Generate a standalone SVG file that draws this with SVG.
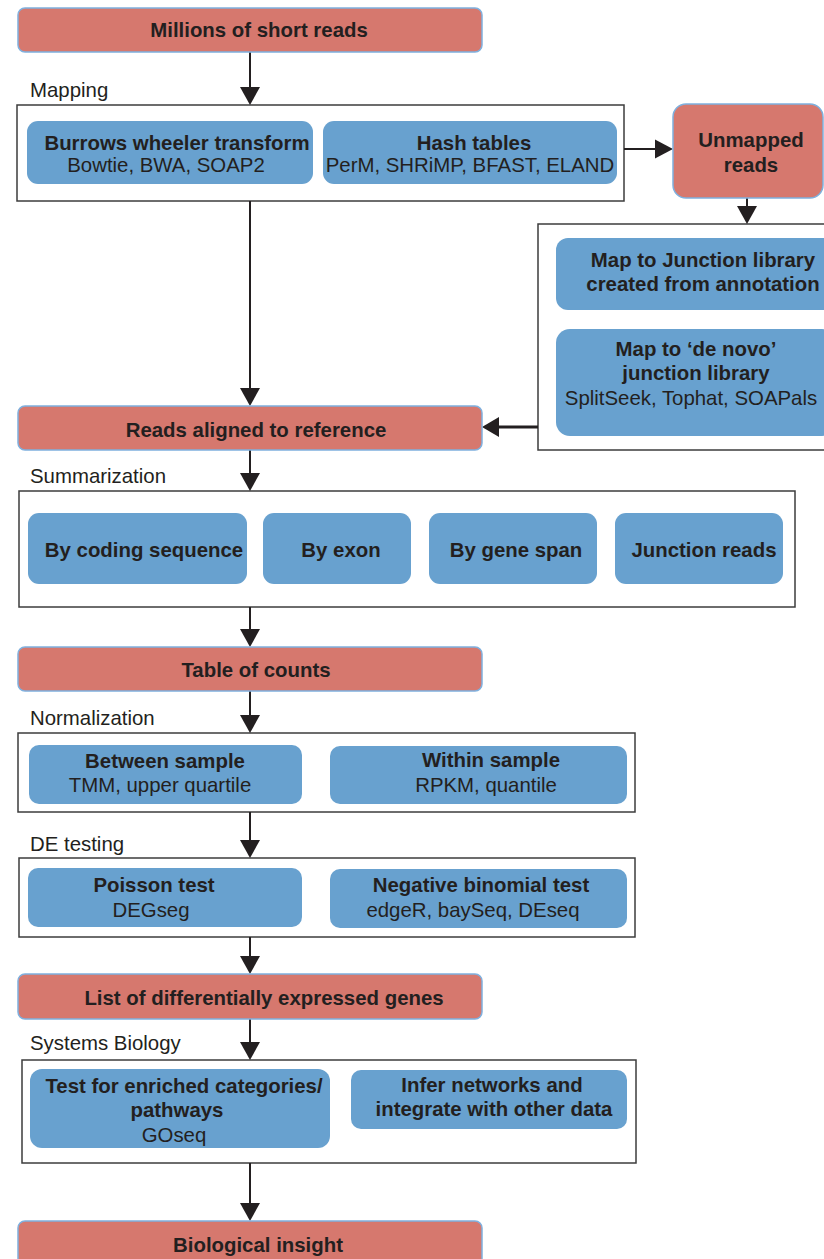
<svg xmlns="http://www.w3.org/2000/svg" width="824" height="1259" viewBox="0 0 824 1259">
<style>
text{font-family:"Liberation Sans",Arial,Helvetica,sans-serif;font-size:20.4px;fill:#231f20}
.b{font-weight:bold;text-anchor:middle}
.r{text-anchor:middle}
.lab{text-anchor:start}
.red{fill:#d6786e;stroke:#7fb0de;stroke-width:1.5}
.blue{fill:#68a1cf;stroke:none}
.frame{fill:none;stroke:#3c3c3c;stroke-width:1.5}
.ln{stroke:#231f20;stroke-width:2;fill:none}
.ah{fill:#231f20}
</style>
<defs>
<path id="down" d="M-10,-18 L10,-18 L0,0 Z" class="ah"/>
</defs>
<rect width="824" height="1259" fill="#ffffff"/>

<g id="frames">
<rect id="frame-mapping" class="frame" x="17" y="105" width="607" height="96"/>
<rect id="frame-junction" class="frame" x="538" y="224" width="300" height="226"/>
<rect id="frame-summarization" class="frame" x="19" y="491" width="776" height="116"/>
<rect id="frame-normalization" class="frame" x="18" y="733" width="617" height="79"/>
<rect id="frame-de" class="frame" x="19" y="858" width="616" height="79"/>
<rect id="frame-systems" class="frame" x="22" y="1060" width="614" height="103"/>
</g>

<g id="labels">
<text class="lab" x="30" y="97">Mapping</text>
<text class="lab" x="30" y="483">Summarization</text>
<text class="lab" x="30" y="725">Normalization</text>
<text class="lab" x="30" y="851">DE testing</text>
<text class="lab" x="30" y="1050">Systems Biology</text>
</g>

<g id="connectors">
<line class="ln" x1="250" y1="52" x2="250" y2="90"/>
<use href="#down" x="250" y="105"/>
<line class="ln" x1="624" y1="149" x2="657" y2="149"/>
<path class="ah" d="M673,149 L655,139.5 L655,158.5 Z"/>
<line class="ln" x1="747" y1="198" x2="747" y2="208"/>
<use href="#down" x="747" y="224"/>
<line class="ln" x1="250" y1="201" x2="250" y2="390"/>
<use href="#down" x="250" y="406"/>
<line x1="538" y1="427" x2="496" y2="427" stroke="#231f20" stroke-width="3"/>
<path class="ah" d="M482,427 L499,417 L499,437 Z"/>
<line class="ln" x1="250" y1="450" x2="250" y2="475"/>
<use href="#down" x="250" y="491"/>
<line class="ln" x1="250" y1="607" x2="250" y2="631"/>
<use href="#down" x="250" y="647"/>
<line class="ln" x1="250" y1="691" x2="250" y2="717"/>
<use href="#down" x="250" y="733"/>
<line class="ln" x1="250" y1="812" x2="250" y2="842"/>
<use href="#down" x="250" y="858"/>
<line class="ln" x1="250" y1="937" x2="250" y2="958"/>
<use href="#down" x="250" y="974"/>
<line class="ln" x1="250" y1="1019" x2="250" y2="1044"/>
<use href="#down" x="250" y="1060"/>
<line class="ln" x1="250" y1="1163" x2="250" y2="1205"/>
<use href="#down" x="250" y="1221"/>
</g>

<g id="node-millions">
<rect class="red" x="18" y="8" width="464" height="44" rx="7"/>
<text class="b" x="259" y="37">Millions of short reads</text>
</g>

<g id="node-bwt">
<rect class="blue" x="27" y="121" width="286" height="63" rx="11"/>
<text class="b" x="177" y="150">Burrows wheeler transform</text>
<text class="r" x="166" y="172">Bowtie, BWA, SOAP2</text>
</g>

<g id="node-hash">
<rect class="blue" x="323" y="121" width="294" height="63" rx="11"/>
<text class="b" x="474" y="150">Hash tables</text>
<text class="r" x="470" y="172">PerM, SHRiMP, BFAST, ELAND</text>
</g>

<g id="node-unmapped">
<rect class="red" x="673" y="104" width="150" height="94" rx="13"/>
<text class="b" x="751" y="147">Unmapped</text>
<text class="b" x="751" y="172">reads</text>
</g>

<g id="node-junction-annot">
<rect class="blue" x="556" y="238" width="280" height="72" rx="12"/>
<text class="b" x="703" y="267">Map to Junction library</text>
<text class="b" x="703" y="291">created from annotation</text>
</g>

<g id="node-junction-denovo">
<rect class="blue" x="556" y="329" width="280" height="107" rx="14"/>
<text class="b" x="696" y="356">Map to ‘de novo’</text>
<text class="b" x="696" y="380">junction library</text>
<text class="r" x="691" y="405">SplitSeek, Tophat, SOAPals</text>
</g>

<g id="node-aligned">
<rect class="red" x="18" y="406" width="464" height="44" rx="7"/>
<text class="b" x="256" y="437">Reads aligned to reference</text>
</g>

<g id="node-cds">
<rect class="blue" x="28" y="513" width="219" height="71" rx="11"/>
<text class="b" x="144" y="557">By coding sequence</text>
</g>
<g id="node-exon">
<rect class="blue" x="263" y="513" width="148" height="71" rx="11"/>
<text class="b" x="341" y="557">By exon</text>
</g>
<g id="node-genespan">
<rect class="blue" x="429" y="513" width="168" height="71" rx="11"/>
<text class="b" x="516" y="557">By gene span</text>
</g>
<g id="node-junctionreads">
<rect class="blue" x="615" y="513" width="168" height="71" rx="11"/>
<text class="b" x="704" y="557">Junction reads</text>
</g>

<g id="node-counts">
<rect class="red" x="18" y="647" width="464" height="44" rx="7"/>
<text class="b" x="256" y="677">Table of counts</text>
</g>

<g id="node-between">
<rect class="blue" x="29" y="745" width="273" height="59" rx="10"/>
<text class="b" x="165" y="768">Between sample</text>
<text class="r" x="160" y="792">TMM, upper quartile</text>
</g>
<g id="node-within">
<rect class="blue" x="330" y="746" width="297" height="58" rx="10"/>
<text class="b" x="491" y="767">Within sample</text>
<text class="r" x="486" y="792">RPKM, quantile</text>
</g>

<g id="node-poisson">
<rect class="blue" x="28" y="868" width="274" height="59" rx="10"/>
<text class="b" x="154" y="892">Poisson test</text>
<text class="r" x="151" y="917">DEGseg</text>
</g>
<g id="node-negbin">
<rect class="blue" x="330" y="869" width="297" height="59" rx="10"/>
<text class="b" x="481" y="892">Negative binomial test</text>
<text class="r" x="473" y="917">edgeR, baySeq, DEseq</text>
</g>

<g id="node-degenes">
<rect class="red" x="18" y="974" width="464" height="45" rx="7"/>
<text class="b" x="264" y="1005">List of differentially expressed genes</text>
</g>

<g id="node-enriched">
<rect class="blue" x="30" y="1069" width="300" height="79" rx="12"/>
<text class="b" x="184" y="1093">Test for enriched categories/</text>
<text class="b" x="177" y="1117">pathways</text>
<text class="r" x="174" y="1142">GOseq</text>
</g>
<g id="node-networks">
<rect class="blue" x="351" y="1070" width="276" height="59" rx="10"/>
<text class="b" x="492" y="1092">Infer networks and</text>
<text class="b" x="494" y="1116">integrate with other data</text>
</g>

<g id="node-insight">
<rect class="red" x="18" y="1221" width="464" height="46" rx="7"/>
<text class="b" x="258" y="1252">Biological insight</text>
</g>
</svg>
